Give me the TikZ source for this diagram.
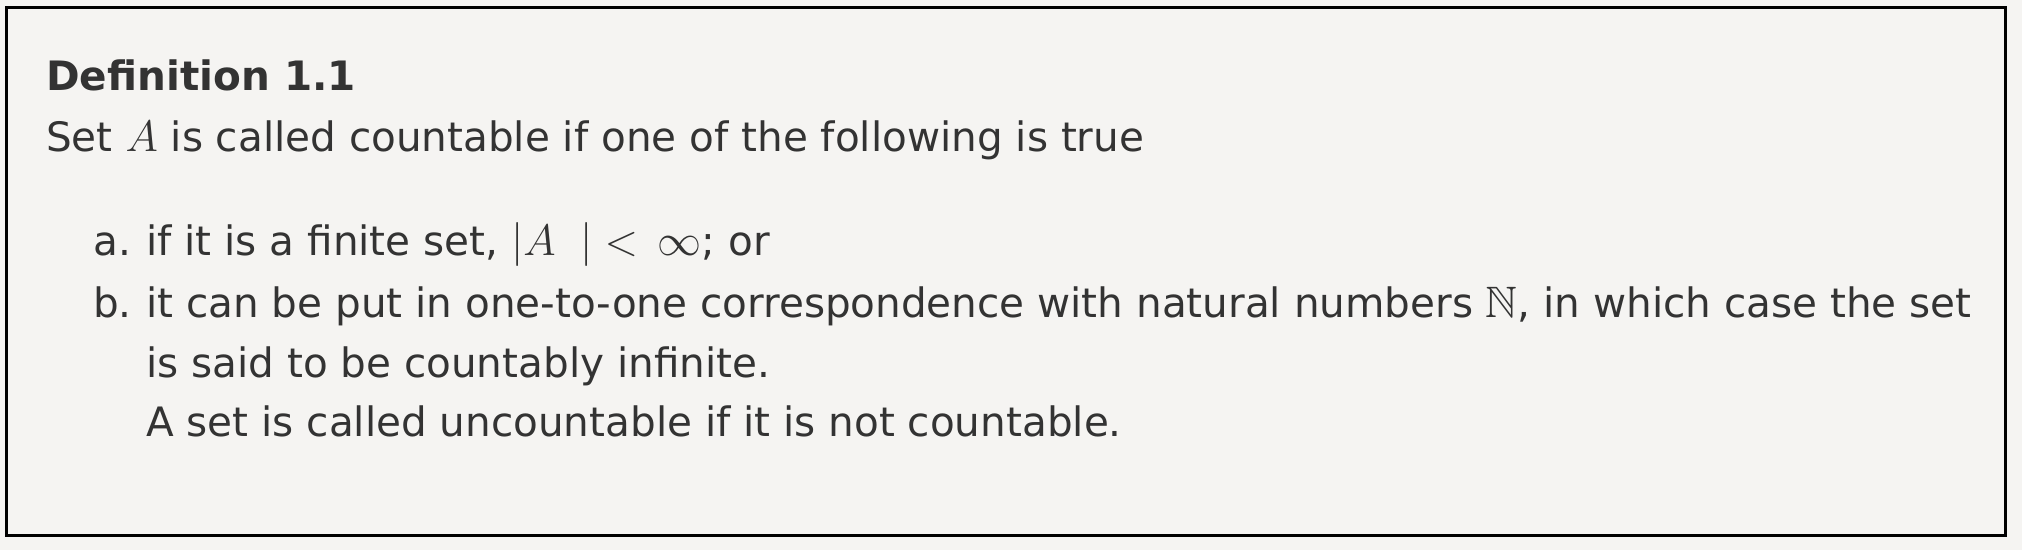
\RequirePackage{fix-cm}
\documentclass[tikz,border=0pt]{standalone}
\usepackage{amssymb}
\usepackage{fontspec}
\setmainfont{DejaVu Sans}
\DeclareFontFamily{U}{msb}{}
\DeclareFontShape{U}{msb}{m}{n}{<-6>msbm5<6-8>msbm7<8->msbm10}{}
\definecolor{pagebg}{HTML}{F5F4F2}
\definecolor{inkgray}{HTML}{333333}
% math is set a little larger than the text round it
\newcommand{\mth}[1]{{\fontsize{44}{48}\selectfont$#1$}}

\begin{document}
\begin{tikzpicture}[x=1pt,y=-1pt,
    txt/.style={anchor=base west, inner sep=0pt, text=inkgray,
        font=\fontsize{40.5}{48}\selectfont}]

\fill[pagebg] (0,0) rectangle (2022,550);
\draw[line width=3pt] (6.5,7.5) rectangle (2005,535);

% heading and opening sentence
\node[txt, font=\fontsize{40.5}{48}\selectfont\bfseries] (defhead) at (46,90) {Definition 1.1};
\node[txt] (defline) at (46,151) {Set \mth{A} is called countable if one of the following is true};

% the two cases
\node[txt] (labela) at (93,255) {a.};
\node[txt] (itema) at (146,255) {if it is a finite set, \mth{|A\;\;|<\,\infty}; or};
\node[txt] (labelb) at (93,317) {b.};
\node[txt] (itemb) at (146,317) {it can be put in one-to-one correspondence with natural numbers \mth{\mathbb{N}}, in which case the set};
\node[txt] (itemb2) at (146,377) {is said to be countably infinite.};
\node[txt] (closing) at (146,436) {A set is called uncountable if it is not countable.};
\end{tikzpicture}
\end{document}
